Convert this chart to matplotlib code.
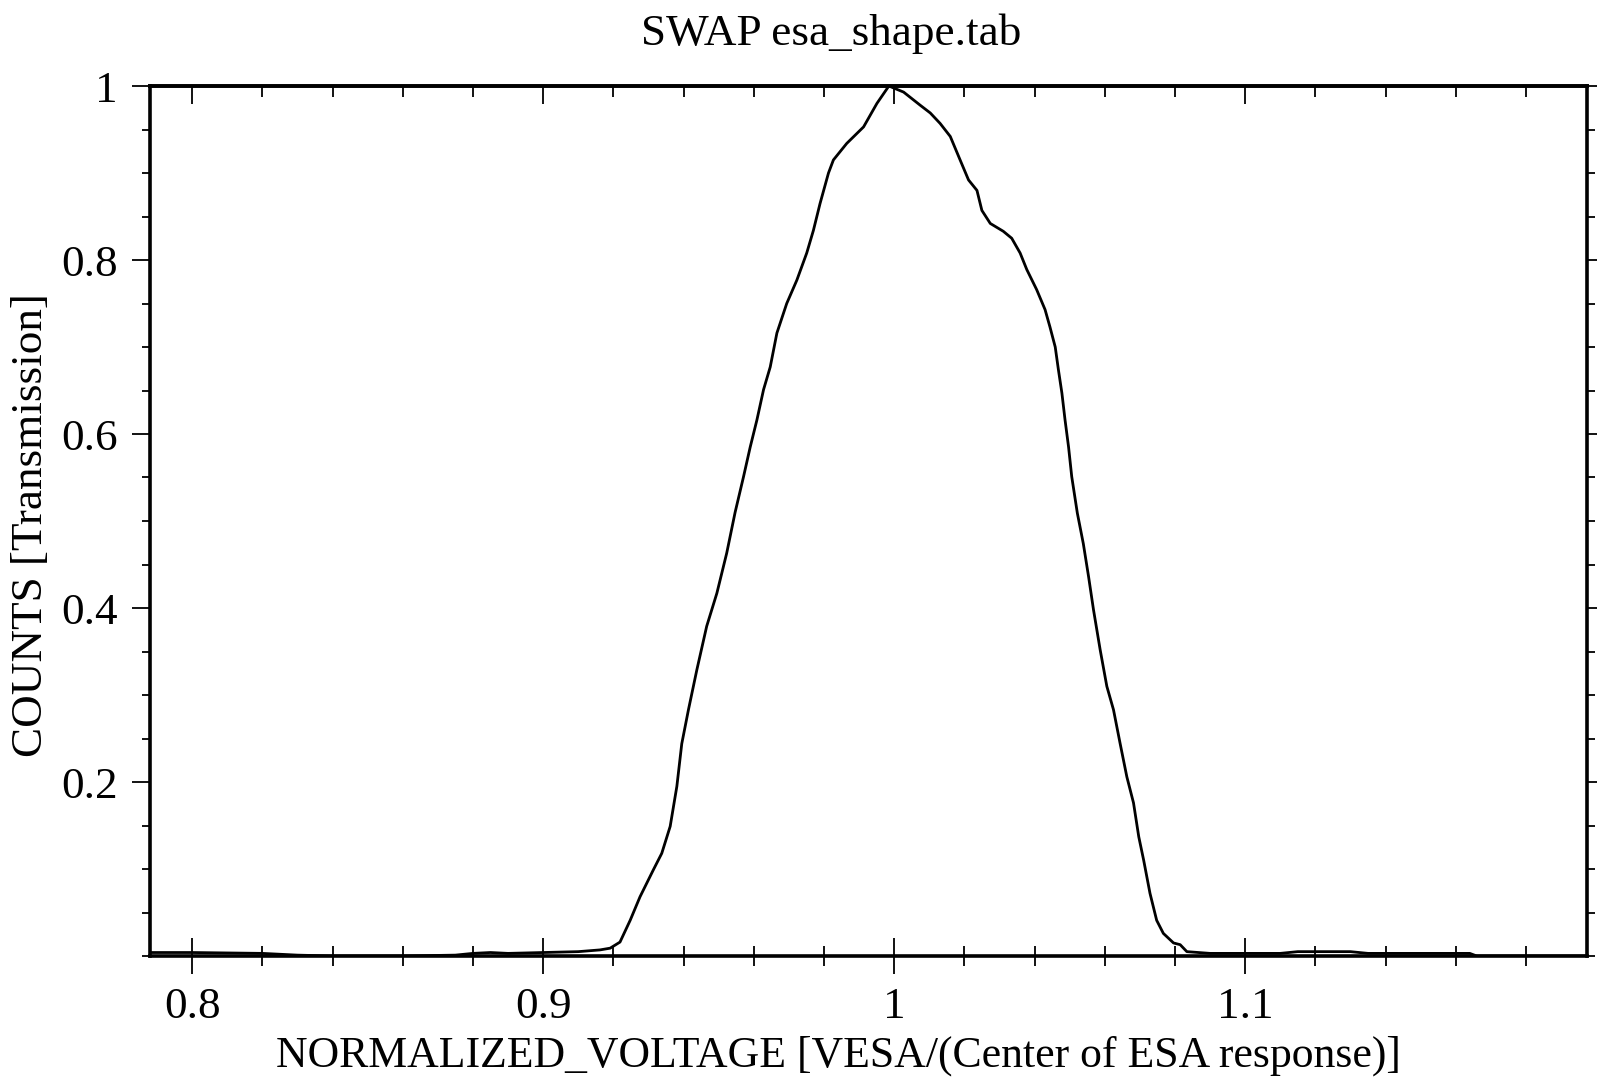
import matplotlib
matplotlib.use("Agg")
import matplotlib.pyplot as plt
from matplotlib.ticker import MultipleLocator, FixedLocator, FixedFormatter

# ESA transmission shape
voltage = [0.788, 0.800, 0.820, 0.830, 0.840, 0.860, 0.875, 0.880, 0.885, 0.890,
           0.900, 0.910, 0.9162, 0.9191, 0.9219, 0.9248, 0.9276, 0.9314, 0.9338, 0.9362,
           0.9381, 0.9395, 0.9414, 0.9438, 0.9466, 0.9495, 0.9523, 0.9547, 0.9571, 0.9590,
           0.9609, 0.9628, 0.9647, 0.9666, 0.9694, 0.9723, 0.9751, 0.9770, 0.9789, 0.9813,
           0.9827, 0.9865, 0.9913, 0.9951, 0.9985, 1.0027, 1.0074, 1.0103, 1.0131, 1.0160,
           1.0188, 1.0212, 1.0236, 1.0250, 1.0274, 1.0311, 1.0335, 1.0359, 1.0378, 1.0406,
           1.0430, 1.0444, 1.0459, 1.0468, 1.0478, 1.0487, 1.0497, 1.0506, 1.0522, 1.0539,
           1.0554, 1.0568, 1.0587, 1.0606, 1.0625, 1.0644, 1.0663, 1.0682, 1.0697, 1.0711,
           1.0729, 1.0748, 1.0767, 1.0796, 1.0815, 1.0834, 1.090, 1.100, 1.110, 1.115,
           1.130, 1.135, 1.150, 1.164, 1.166, 1.197]
counts = [0.004, 0.004, 0.003, 0.001, 0.000, 0.000, 0.001, 0.003, 0.004, 0.003,
          0.004, 0.005, 0.007, 0.009, 0.016, 0.041, 0.068, 0.099, 0.118, 0.149,
          0.195, 0.244, 0.283, 0.329, 0.379, 0.417, 0.463, 0.510, 0.551, 0.585,
          0.616, 0.651, 0.677, 0.716, 0.750, 0.777, 0.808, 0.834, 0.865, 0.900,
          0.915, 0.934, 0.953, 0.980, 1.000, 0.993, 0.978, 0.969, 0.957, 0.942,
          0.915, 0.892, 0.880, 0.857, 0.842, 0.833, 0.825, 0.808, 0.789, 0.766,
          0.743, 0.723, 0.700, 0.674, 0.647, 0.616, 0.585, 0.551, 0.509, 0.474,
          0.436, 0.398, 0.352, 0.310, 0.283, 0.244, 0.206, 0.176, 0.137, 0.110,
          0.072, 0.041, 0.026, 0.015, 0.013, 0.005, 0.003, 0.003, 0.003, 0.005,
          0.005, 0.003, 0.003, 0.003, 0.000, 0.000]

x_ticks = [0.8, 0.9, 1.0, 1.1]
x_labels = ["0.8", "0.9", "1", "1.1"]
y_ticks = [0.2, 0.4, 0.6, 0.8, 1.0]
y_labels = ["0.2", "0.4", "0.6", "0.8", "1"]

plt.rcParams["font.family"] = ["Liberation Serif", "DejaVu Serif"]
plt.rcParams["font.size"] = 32.5

fig = plt.figure(figsize=(15.97, 10.81), dpi=100)
ax = fig.add_axes([150 / 1597, 1 - 956 / 1081, (1587 - 150) / 1597, (956 - 86) / 1081])

ax.plot(voltage, counts, color="black", lw=2.0)
ax.set_xlim(0.788, 1.1974)
ax.set_ylim(0, 1)

for s in ax.spines.values():
  s.set_linewidth(2.6)

ax.xaxis.set_major_locator(FixedLocator(x_ticks))
ax.xaxis.set_major_formatter(FixedFormatter(x_labels))
ax.xaxis.set_minor_locator(MultipleLocator(0.02))
ax.yaxis.set_major_locator(FixedLocator(y_ticks))
ax.yaxis.set_major_formatter(FixedFormatter(y_labels))
ax.yaxis.set_minor_locator(MultipleLocator(0.05))

ax.tick_params(axis="x", which="major", direction="inout", length=26, width=1.3, pad=9)
ax.tick_params(axis="x", which="minor", direction="inout", length=15, width=1.3)
ax.tick_params(axis="y", which="major", direction="out", length=13, width=1.3, pad=10,
               right=True)
ax.tick_params(axis="y", which="minor", direction="out", length=6, width=1.3, right=True)

# top axis carries inward ticks only
top = ax.secondary_xaxis("top")
top.xaxis.set_major_locator(FixedLocator(x_ticks))
top.xaxis.set_minor_locator(MultipleLocator(0.02))
top.tick_params(which="major", direction="in", length=13, width=1.3, labeltop=False)
top.tick_params(which="minor", direction="in", length=8, width=1.3)
top.spines["top"].set_linewidth(2.6)

fig.text(831 / 1597, 1 - 34 / 1081, "SWAP esa_shape.tab", ha="center", va="center")
fig.text(838 / 1597, 1 - 1056 / 1081, "NORMALIZED_VOLTAGE [VESA/(Center of ESA response)]",
         ha="center", va="center", fontsize=31.5)
fig.text(31 / 1597, 1 - 525 / 1081, "COUNTS [Transmission]", ha="center", va="center",
         rotation=90)

plt.savefig("out.png", dpi=100)
